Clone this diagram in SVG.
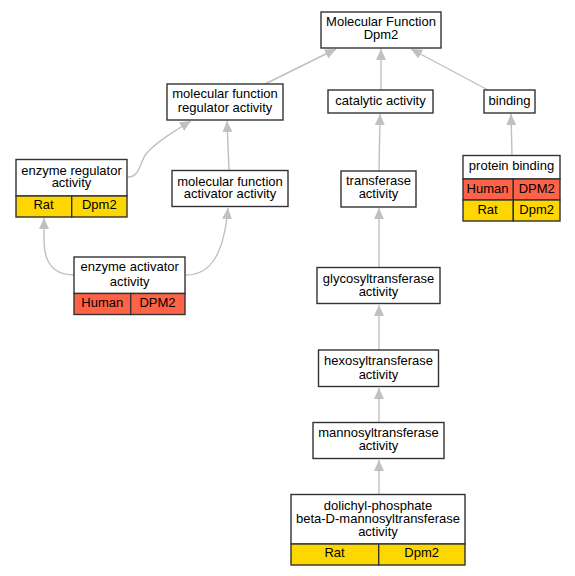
<svg xmlns="http://www.w3.org/2000/svg" width="575" height="576" viewBox="0 0 575 576">
<style>
text{font-family:"Liberation Sans",Arial,sans-serif;font-size:13px;fill:#000;text-anchor:middle}
.b{fill:#fff;stroke:#333;stroke-width:1.4}
.h{fill:#ff6347;stroke:#333;stroke-width:1.4}
.r{fill:#ffd700;stroke:#333;stroke-width:1.4}
.e{fill:none;stroke:#c0c0c0;stroke-width:1.4}
</style>
<defs>
<marker id="a" markerUnits="userSpaceOnUse" markerWidth="12" markerHeight="10" refX="11" refY="5" orient="auto">
<path d="M0,0 L11,5 L0,10 z" fill="#c0c0c0"/>
</marker>
</defs>
<rect width="575" height="576" fill="#fff"/>
<g id="edges">
<path class="e" marker-end="url(#a)" d="M265,84 L336,49"/>
<path class="e" marker-end="url(#a)" d="M381,90 L381,49"/>
<path class="e" marker-end="url(#a)" d="M488,90 L411,49"/>
<path class="e" marker-end="url(#a)" d="M512,155 L511,114"/>
<path class="e" marker-end="url(#a)" d="M379,171 L380,114"/>
<path class="e" marker-end="url(#a)" d="M379,267 L379,208"/>
<path class="e" marker-end="url(#a)" d="M379,350 L379,305"/>
<path class="e" marker-end="url(#a)" d="M379,422 L379,388"/>
<path class="e" marker-end="url(#a)" d="M379,494 L379,460"/>
<path class="e" marker-end="url(#a)" d="M128,177 C140,177 140,162 146,154 C156,142 176,130 191,121"/>
<path class="e" marker-end="url(#a)" d="M229,170 L227,121"/>
<path class="e" marker-end="url(#a)" d="M74,275 C52,275 44,262 44,240 L44,218"/>
<path class="e" marker-end="url(#a)" d="M186,275 C212,275 224,252 228,208"/>
</g>
<g id="n_mf">
<rect class="b" x="321" y="12" width="120" height="36"/>
<text x="381" y="26">Molecular Function</text>
<text x="381" y="38.5">Dpm2</text>
</g>
<g id="n_catalytic">
<rect class="b" x="328" y="90" width="105" height="23"/>
<text x="380.5" y="105">catalytic activity</text>
</g>
<g id="n_binding">
<rect class="b" x="484" y="90" width="51" height="23"/>
<text x="509.5" y="105">binding</text>
</g>
<g id="n_protein_binding">
<rect class="b" x="463" y="155.5" width="97" height="23.5"/>
<text x="511.5" y="170">protein binding</text>
<rect class="h" x="463" y="179" width="50.3" height="21"/>
<rect class="h" x="513.3" y="179" width="46.7" height="21"/>
<rect class="r" x="463" y="200" width="50.3" height="21"/>
<rect class="r" x="513.3" y="200" width="46.7" height="21"/>
<text x="487.5" y="193">Human</text>
<text x="536.7" y="193">DPM2</text>
<text x="487.5" y="213.5">Rat</text>
<text x="536.7" y="213.5">Dpm2</text>
</g>
<g id="n_mf_regulator">
<rect class="b" x="167" y="84" width="116" height="36"/>
<text x="225" y="98">molecular function</text>
<text x="225" y="111.5">regulator activity</text>
</g>
<g id="n_enzyme_regulator">
<rect class="b" x="16" y="159.5" width="111" height="36.5"/>
<text x="71.5" y="174.5">enzyme regulator</text>
<text x="71.5" y="187">activity</text>
<rect class="r" x="16" y="196" width="55.7" height="21"/>
<rect class="r" x="71.7" y="196" width="55.3" height="21"/>
<text x="43.5" y="208.5">Rat</text>
<text x="99.3" y="208.5">Dpm2</text>
</g>
<g id="n_mf_activator">
<rect class="b" x="172" y="170.5" width="116" height="36"/>
<text x="230" y="185.5">molecular function</text>
<text x="230" y="198">activator activity</text>
</g>
<g id="n_transferase">
<rect class="b" x="341" y="171" width="75" height="36"/>
<text x="378.5" y="185">transferase</text>
<text x="378.5" y="198">activity</text>
</g>
<g id="n_enzyme_activator">
<rect class="b" x="74" y="257" width="111" height="36.5"/>
<text x="129.7" y="271">enzyme activator</text>
<text x="129.7" y="285.5">activity</text>
<rect class="h" x="74" y="293.5" width="56.7" height="21"/>
<rect class="h" x="130.7" y="293.5" width="54.3" height="21"/>
<text x="102.3" y="307">Human</text>
<text x="157.5" y="307">DPM2</text>
</g>
<g id="n_glyco">
<rect class="b" x="317" y="267.5" width="123" height="36"/>
<text x="378.5" y="283">glycosyltransferase</text>
<text x="378.5" y="296">activity</text>
</g>
<g id="n_hexo">
<rect class="b" x="318.5" y="350" width="120" height="36.5"/>
<text x="378.5" y="365">hexosyltransferase</text>
<text x="378.5" y="378.8">activity</text>
</g>
<g id="n_manno">
<rect class="b" x="313" y="422.5" width="131" height="36"/>
<text x="378.5" y="437">mannosyltransferase</text>
<text x="378.5" y="450">activity</text>
</g>
<g id="n_dolichyl">
<rect class="b" x="291" y="494.5" width="174" height="49.5"/>
<text x="378" y="510">dolichyl-phosphate</text>
<text x="378" y="522.5">beta-D-mannosyltransferase</text>
<text x="378" y="535.5">activity</text>
<rect class="r" x="291" y="544" width="87.7" height="21"/>
<rect class="r" x="378.7" y="544" width="86.3" height="21"/>
<text x="334.5" y="557">Rat</text>
<text x="421.7" y="557">Dpm2</text>
</g>
</svg>
